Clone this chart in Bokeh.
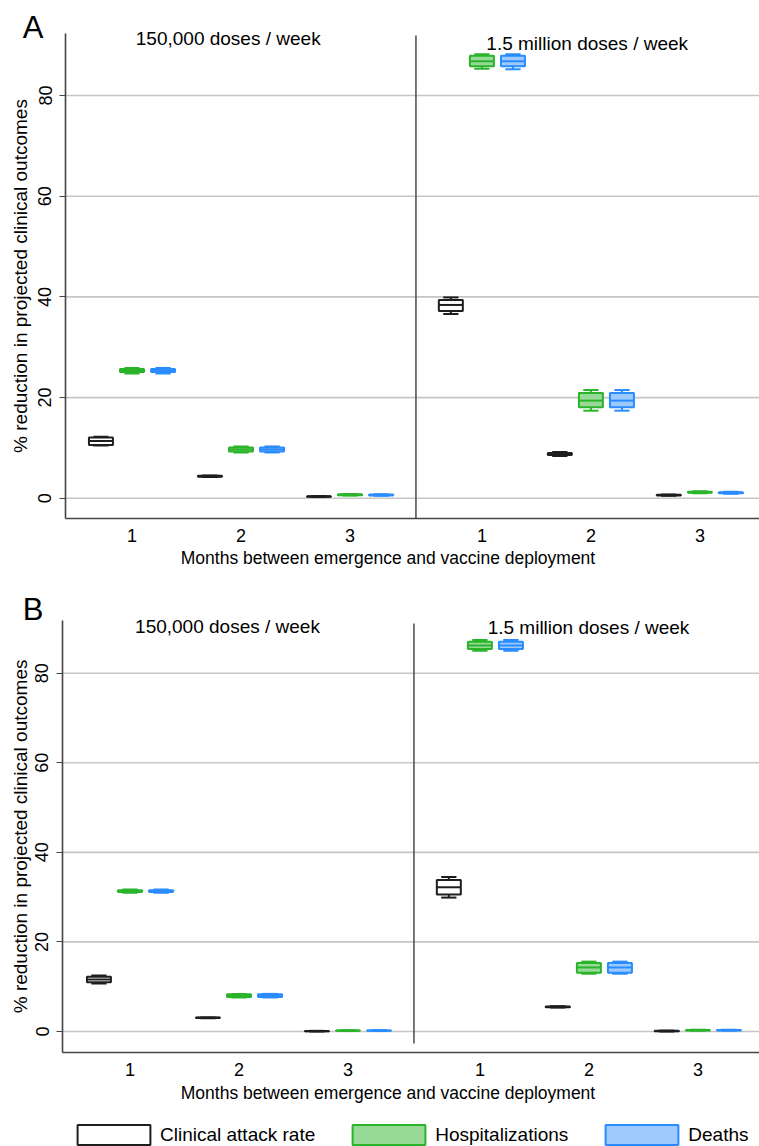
import math
from bokeh.plotting import figure
from bokeh.layouts import column
from bokeh.models import ColumnDataSource, FixedTicker, Label, Legend, LegendItem, Range1d
from bokeh.embed import file_html
from bokeh.resources import INLINE

# ---------------- data ----------------
months = [1, 2, 3]
month_labels = ["1", "2", "3"]
outcomes = ["Clinical attack rate", "Hospitalizations", "Deaths"]
dose_titles = ["150,000 doses / week", "1.5 million doses / week"]
y_ticks = [0, 20, 40, 60, 80]
y_label = "% reduction in projected clinical outcomes"
x_label = "Months between emergence and vaccine deployment"

# each entry: [lower whisker, Q1, median, Q3, upper whisker] for months 1, 2, 3
# Panel A
a_low_car = [[10.5, 10.6, 11.4, 12.1, 12.2], [4.25, 4.3, 4.4, 4.5, 4.55], [0.3, 0.32, 0.36, 0.4, 0.42]]
a_low_hosp = [[24.8, 25.1, 25.4, 25.7, 25.9], [9.1, 9.3, 9.7, 10.1, 10.3], [0.55, 0.6, 0.7, 0.8, 0.85]]
a_low_death = [[24.8, 25.1, 25.4, 25.7, 25.9], [9.1, 9.3, 9.7, 10.1, 10.3], [0.5, 0.55, 0.65, 0.75, 0.8]]
a_high_car = [[36.6, 37.2, 38.4, 39.4, 39.9], [8.4, 8.6, 8.8, 9.0, 9.2], [0.5, 0.55, 0.65, 0.7, 0.75]]
a_high_hosp = [[85.3, 85.8, 86.8, 87.9, 88.2], [17.4, 18.1, 19.4, 20.9, 21.5], [1.0, 1.1, 1.2, 1.3, 1.4]]
a_high_death = [[85.2, 85.8, 86.8, 87.9, 88.2], [17.4, 18.1, 19.4, 20.9, 21.5], [0.9, 1.0, 1.1, 1.2, 1.3]]
# Panel B
b_low_car = [[10.7, 11.0, 11.6, 12.2, 12.5], [2.95, 3.0, 3.05, 3.1, 3.15], [0.0, 0.03, 0.08, 0.12, 0.15]]
b_low_hosp = [[31.0, 31.15, 31.35, 31.55, 31.7], [7.6, 7.7, 8.0, 8.3, 8.4], [0.1, 0.15, 0.2, 0.25, 0.3]]
b_low_death = [[31.0, 31.15, 31.35, 31.55, 31.7], [7.6, 7.7, 8.0, 8.3, 8.4], [0.1, 0.15, 0.2, 0.25, 0.3]]
b_high_car = [[29.9, 30.6, 32.2, 33.8, 34.5], [5.35, 5.4, 5.5, 5.6, 5.65], [0.0, 0.05, 0.1, 0.15, 0.2]]
b_high_hosp = [[85.0, 85.4, 86.2, 87.0, 87.4], [12.9, 13.1, 14.3, 15.3, 15.6], [0.2, 0.25, 0.3, 0.35, 0.4]]
b_high_death = [[85.0, 85.4, 86.2, 87.0, 87.4], [12.9, 13.1, 14.3, 15.3, 15.6], [0.2, 0.25, 0.3, 0.35, 0.4]]

# ---------------- style ----------------
FONT = "Liberation Sans"
line_colors = ["#1e1e1e", "#2bb42b", "#2a8cff"]
fill_colors = ["#ffffff", "#97d997", "#9ccaff"]
box_offsets = [-0.285, 0.0, 0.285]
box_w = 0.22
cap_w = 0.14
high_shift = 3.21   # position shift of the 1.5 million doses / week block
PX_X = 109.0        # pixels per month unit
W = 759


def make_panel(letter, data, height, x1_px, zero_px, px_y, axis_left_px, axis_top_px, axis_bottom_px,
               divider_px, title_px, xlabel_px, ylabel_px, letter_px, legend=False):
    # helpers: panel pixel -> data coordinates (used only for layout of axes / texts)
    X = lambda px: 1 + (px - x1_px) / PX_X
    Y = lambda py: (zero_px - py) / px_y

    p = figure(width=W, height=height, output_backend="svg", toolbar_location=None, title=None,
               x_range=Range1d(X(0), X(W)), y_range=Range1d(Y(height), Y(0)), min_border=0)
    p.outline_line_color = None
    p.background_fill_color = "white"
    p.border_fill_color = "white"
    p.grid.visible = False

    x_lo, x_hi = X(axis_left_px), X(W)
    y_lo, y_hi = Y(axis_bottom_px), Y(axis_top_px)

    # horizontal grid lines
    p.segment(x0=[x_lo] * len(y_ticks), y0=y_ticks, x1=[x_hi] * len(y_ticks), y1=y_ticks,
              line_color="#c6c6c6", line_width=1.6)

    tick_pos = months + [m + high_shift for m in months]
    xa = p.xaxis[0]
    xa.fixed_location = y_lo
    xa.bounds = (x_lo, x_hi)
    xa.ticker = FixedTicker(ticks=tick_pos)
    xa.major_label_overrides = {t: month_labels[i % 3] for i, t in enumerate(tick_pos)}
    xa.major_tick_line_color = None
    xa.minor_tick_line_color = None
    xa.major_label_standoff = 5
    xa.major_label_text_font = FONT
    xa.major_label_text_font_size = "18px"
    xa.major_label_text_color = "black"
    xa.axis_line_color = "#444444"
    xa.axis_line_width = 1.6

    ya = p.yaxis[0]
    ya.fixed_location = x_lo
    ya.bounds = (y_lo, y_hi)
    ya.ticker = FixedTicker(ticks=y_ticks)
    ya.major_label_orientation = "vertical"
    ya.major_label_text_font = FONT
    ya.major_label_text_font_size = "18px"
    ya.major_label_text_color = "black"
    ya.major_label_standoff = 8
    ya.major_tick_out = 6
    ya.major_tick_in = 0
    ya.major_tick_line_color = "#444444"
    ya.minor_tick_line_color = None
    ya.axis_line_color = "#444444"
    ya.axis_line_width = 1.6

    # divider between the two dosing scenarios
    div_x = (months[-1] + months[0] + high_shift) / 2.0
    p.segment(x0=[div_x], y0=[Y(divider_px[1])], x1=[div_x], y1=[Y(divider_px[0])],
              line_color="#555555", line_width=1.6)

    box_renderers = []
    for k, name in enumerate(outcomes):
        xs, lo, q1, med, q3, hi = [], [], [], [], [], []
        for block, shift in ((0, 0.0), (1, high_shift)):
            series = data[block][k]
            for mi, m in enumerate(months):
                v = series[mi]
                xs.append(m + shift + box_offsets[k])
                lo.append(v[0]); q1.append(v[1]); med.append(v[2]); q3.append(v[3]); hi.append(v[4])
        src = ColumnDataSource(dict(
            x=xs, lo=lo, q1=q1, med=med, q3=q3, hi=hi,
            left=[x - box_w / 2 for x in xs], right=[x + box_w / 2 for x in xs],
            cl=[x - cap_w / 2 for x in xs], cr=[x + cap_w / 2 for x in xs]))
        lc = line_colors[k]
        p.segment(x0="x", y0="lo", x1="x", y1="q1", source=src, line_color=lc, line_width=2)
        p.segment(x0="x", y0="q3", x1="x", y1="hi", source=src, line_color=lc, line_width=2)
        p.segment(x0="cl", y0="lo", x1="cr", y1="lo", source=src, line_color=lc, line_width=2)
        p.segment(x0="cl", y0="hi", x1="cr", y1="hi", source=src, line_color=lc, line_width=2)
        r = p.quad(left="left", right="right", bottom="q1", top="q3", source=src,
                   fill_color=fill_colors[k], line_color=lc, line_width=2)
        p.segment(x0="left", y0="med", x1="right", y1="med", source=src, line_color=lc, line_width=2)
        box_renderers.append(r)

    for t, (tx, ty) in zip(dose_titles, title_px):
        p.add_layout(Label(x=X(tx), y=Y(ty), text=t, text_font=FONT, text_font_size="19px",
                           text_align="center", text_baseline="middle", text_color="black"))
    p.add_layout(Label(x=X(xlabel_px[0]), y=Y(xlabel_px[1]), text=x_label, text_font=FONT,
                       text_font_size="17.5px", text_align="center", text_baseline="middle",
                       text_color="black"))
    p.add_layout(Label(x=X(ylabel_px[0]), y=Y(ylabel_px[1]), text=y_label, text_font=FONT,
                       text_font_size="19px", text_align="center", text_baseline="middle",
                       angle=math.pi / 2, text_color="black"))
    p.add_layout(Label(x=X(letter_px[0]), y=Y(letter_px[1]), text=letter, text_font=FONT,
                       text_font_size="31px", text_align="center", text_baseline="middle",
                       text_color="black"))

    if legend:
        items = [LegendItem(label=outcomes[k], renderers=[box_renderers[k]]) for k in range(3)]
        lg = Legend(items=items, orientation="horizontal", location=(68, -1),
                    glyph_width=91, glyph_height=25, label_standoff=1, spacing=28,
                    padding=0, margin=0, border_line_color=None, background_fill_alpha=0,
                    label_text_font=FONT, label_text_font_size="19px", label_height=20,
                    label_text_color="black")
        p.add_layout(lg)
    return p


pA = make_panel("A", [[a_low_car, a_low_hosp, a_low_death], [a_high_car, a_high_hosp, a_high_death]],
                height=580, x1_px=131.5, zero_px=497.8, px_y=5.035,
                axis_left_px=65, axis_top_px=33, axis_bottom_px=517.7,
                divider_px=(35, 517.7), title_px=[(227.7, 38), (586.7, 43)],
                xlabel_px=(387.5, 557), ylabel_px=(20, 275.5), letter_px=(32.5, 27))
pB = make_panel("B", [[b_low_car, b_low_hosp, b_low_death], [b_high_car, b_high_hosp, b_high_death]],
                height=566, x1_px=129.5, zero_px=451, px_y=4.479,
                axis_left_px=62, axis_top_px=40, axis_bottom_px=471.7,
                divider_px=(43, 463), title_px=[(227, 45.7), (588, 46.7)],
                xlabel_px=(387.5, 512.7), ylabel_px=(20, 255.9), letter_px=(32.7, 29),
                legend=True)

layout = column(pA, pB, spacing=0)
open("out.html", "w").write(file_html(layout, INLINE))
